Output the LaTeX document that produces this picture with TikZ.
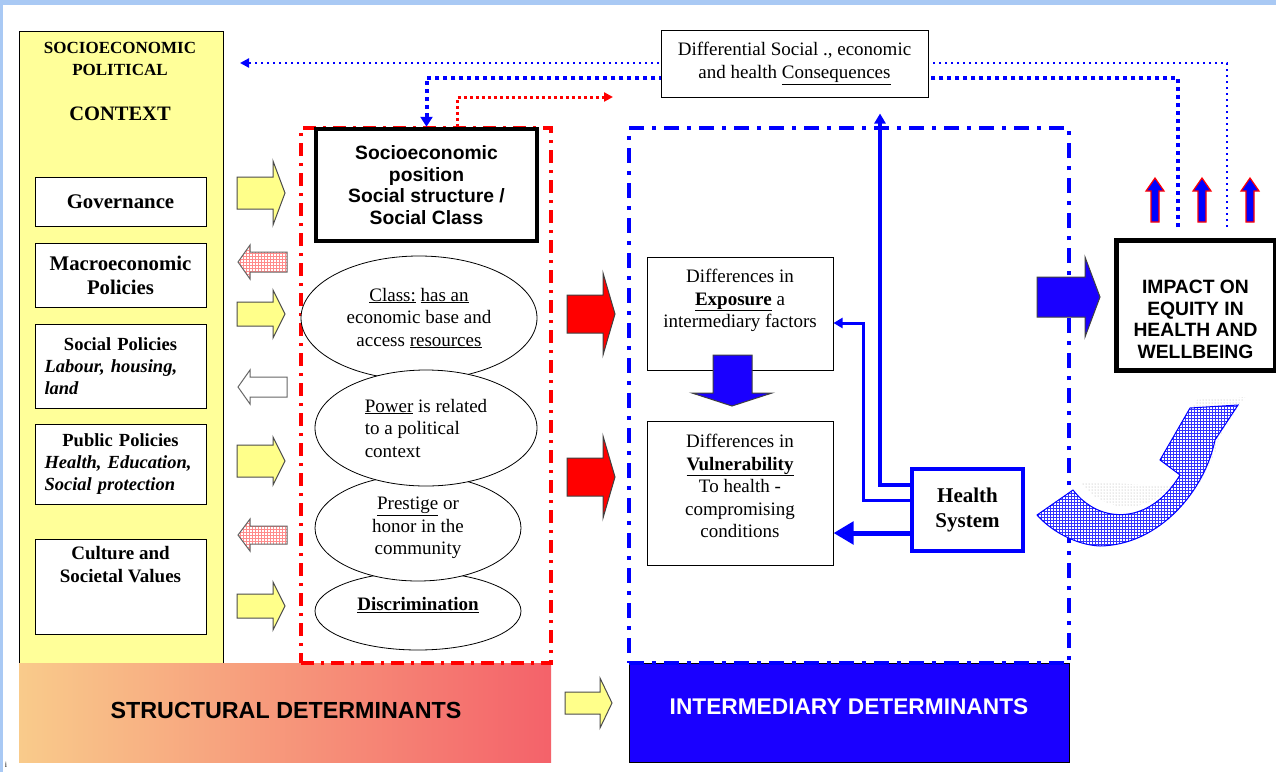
\documentclass[tikz,border=0pt]{standalone}
\usepackage{fontspec}
\setmainfont{Liberation Serif}
\setsansfont{Liberation Sans}
\usetikzlibrary{positioning,shapes.geometric,patterns,arrows.meta}
\definecolor{ctxyellow}{RGB}{255,255,153}
\definecolor{frameblue}{RGB}{169,201,244}
\definecolor{detblue}{RGB}{26,0,255}
\definecolor{linkblue}{RGB}{0,0,255}
\definecolor{sdorange}{RGB}{249,203,139}
\definecolor{sdred}{RGB}{244,98,106}
\newcommand{\diagfont}{\fontsize{19}{22.5}\selectfont}
\newcommand{\policyfont}{\fontsize{18.5}{22}\selectfont}
\newcommand{\capsfont}{\sffamily\bfseries\fontsize{19.3}{21.5}\selectfont}
\newcommand{\bigbold}{\bfseries\fontsize{20.8}{24}\selectfont}
\tikzset{
  ctx box/.style={draw,fill=ctxyellow,line width=1pt,inner sep=0pt},
  plain box/.style={draw,fill=white,line width=1pt,inner sep=0pt,align=center,font=\diagfont},
  policy box/.style={plain box,minimum width=171pt,text width=152pt,align=left,font=\policyfont},
  bold box/.style={plain box,line width=4.5pt},
  round node/.style={ellipse,draw,fill=white,line width=0.8pt,inner sep=0pt,align=center,font=\diagfont},
  body text/.style={inner sep=0pt,align=center,font=\diagfont},
  struct frame/.style={draw=red,line width=4pt,dash pattern=on 13pt off 7pt on 3pt off 7pt,inner sep=0pt},
  inter frame/.style={draw=linkblue,line width=4pt,dash pattern=on 15pt off 8pt on 4pt off 8pt,inner sep=0pt},
  yblk/.style={draw=black!70,line width=1pt,fill=ctxyellow!90!yellow},
  pblk/.style={draw=black!60,line width=1pt,preaction={fill=white},pattern=grid,pattern color=red!45},
  wblk/.style={draw=black!60,line width=1pt,fill=white},
  rblk/.style={draw=black!75,line width=1pt,fill=red},
  bblk/.style={draw=black!75,line width=1pt,fill=detblue},
  upblk/.style={draw=red,line width=1.2pt,fill=linkblue},
  fb thin/.style={draw=linkblue,line width=2.5pt,dash pattern=on 2.5pt off 3.5pt},
  fb thick/.style={draw=linkblue,line width=4pt,dash pattern=on 4pt off 4pt},
  hs link/.style={draw=linkblue,line width=3.5pt},
}
% block arrow: style, tail x, tip x, head x, y, shaft half, head half
\newcommand{\blk}[7]{\path[#1] (#2,{#5-#6}) -- (#4,{#5-#6}) -- (#4,{#5-#7}) -- (#3,#5) -- (#4,{#5+#7}) -- (#4,{#5+#6}) -- (#2,{#5+#6}) -- cycle;}

\begin{document}
\begin{tikzpicture}[x=1pt,y=-1pt]
    \useasboundingbox (0,0) rectangle (1276,772);
    \fill[frameblue] (0,0) rectangle (1276,772);
    \fill[white] (3,5) rectangle (1276,772);

    % context column
    \node[ctx box, minimum width=204pt, minimum height=632pt] (ctx) at (121,347) {};
    \node[body text, font=\bfseries\fontsize{17}{22}\selectfont] (ctxtitle) at (120,59) {SOCIOECONOMIC\\POLITICAL};
    \node[body text, font=\bfseries\fontsize{20.5}{24}\selectfont] (ctxname) at (120,114) {CONTEXT};
    \node[plain box, minimum width=171pt, minimum height=49pt, font=\bigbold] (gov) at (120.5,201.5) {Governance};
    \node[plain box, minimum width=171pt, minimum height=64pt, below=16pt of gov, font=\bigbold] (macro) {Macroeconomic\\Policies};
    \node[policy box, minimum height=84pt, below=16pt of macro] (social)
        {\makebox[152pt]{\bfseries Social Policies}\\\bfseries\itshape Labour, housing,\\\bfseries\itshape land};
    \node[policy box, minimum height=80pt, below=15pt of social] (public)
        {\makebox[152pt]{\bfseries Public Policies}\\\bfseries\itshape Health, Education,\\\bfseries\itshape Social protection};
    \node[plain box, minimum width=171pt, minimum height=95pt, below=34pt of public] (culture) {};
    \node[body text, below=8pt of culture.north] (culturet) {\bfseries Culture and\\\bfseries Societal Values};

    % bottom bars
    \node[draw=none, left color=sdorange, right color=sdred, minimum width=532pt, minimum height=99pt, inner sep=0pt] (structbar) at (285,712.5) {};
    \node[font=\sffamily\bfseries\fontsize{23.3}{28}\selectfont, inner sep=0pt] (structlbl) at (286,710) {STRUCTURAL DETERMINANTS};
    \node[draw, fill=detblue, line width=1pt, minimum width=440pt, minimum height=99pt, inner sep=0pt] (interbar) at (849,712.5) {};
    \node[font=\sffamily\bfseries\fontsize{22.7}{28}\selectfont, text=white, inner sep=0pt] (interlbl) at (849,707) {INTERMEDIARY DETERMINANTS};

    % block arrows between context and structure
    \blk{yblk}{237}{285}{273}{193}{16}{32}
    \blk{pblk}{287}{238}{250}{262}{10}{17}
    \blk{yblk}{237}{285}{273}{314}{12}{24}
    \blk{wblk}{287}{238}{250}{387}{10}{17}
    \blk{yblk}{237}{285}{273}{461}{16}{24}
    \blk{pblk}{287}{238}{250}{535}{9}{16}
    \blk{yblk}{237}{285}{273}{606}{12}{24}
    \blk{yblk}{565}{612}{600}{703}{11}{25}

    % structural determinants
    \node[struct frame, minimum width=250pt, minimum height=535pt] (structframe) at (426,395.5) {};
    \node[bold box, minimum width=221pt, minimum height=112pt, font=\capsfont] (socio) at (426.5,185)
        {Socioeconomic\\position\\Social structure /\\Social Class};
    \node[round node, minimum width=236pt, minimum height=124pt] (class) at (419,318)
        {\underline{Class:} \underline{has an}\\economic base and\\access \underline{resources}};
    \node[round node, minimum width=206pt, minimum height=78pt] (discr) at (418,611)
        {\raisebox{14pt}{\bfseries\underline{Discrimination}}};
    \node[round node, minimum width=206pt, minimum height=106pt] (prestige) at (418,528)
        {\underline{Prestige} or\\honor in the\\community};
    \node[round node, minimum width=222pt, minimum height=116pt, align=left] (power) at (426,428)
        {\underline{Power} is related\\to a political\\context};

    \blk{rblk}{567}{615}{603}{314}{19}{41}
    \blk{rblk}{567}{615}{603}{477}{19}{41}

    % intermediary determinants
    \node[inter frame, minimum width=440pt, minimum height=535pt] (interframe) at (849,395.5) {};
    \node[plain box, minimum width=186pt, minimum height=113pt] (expo) at (740,313.5) {};
    \node[body text] (expot) at (740,300.5) {Differences in\\\textbf{\underline{Exposure}} a\\intermediary factors};
    \node[plain box, minimum width=186pt, minimum height=144pt] (vuln) at (740,493) {};
    \node[body text] (vulnt) at (740,486) {Differences in\\\textbf{\underline{Vulnerability}}\\To health -\\compromising\\conditions};
    \path[bblk] (713,355) -- (752,355) -- (752,393) -- (772,393) -- (732,406) -- (692,393) -- (713,393) -- cycle;
    \node[plain box, draw=linkblue, line width=4pt, minimum width=111pt, minimum height=82pt, font=\bfseries\fontsize{21}{25}\selectfont] (hs) at (967.5,510) {Health\\System};

    % feedback to context and position
    \coordinate (fbtop) at (1227,227);
    \coordinate (fbmid) at (1178,227);
    \coordinate (ctxin) at (240,63);
    \coordinate (redend) at (613,97);
    \draw[fb thin, -{Triangle[length=9pt,width=9pt]}] (fbtop) |- (ctxin);
    \draw[fb thick, -{Triangle[length=10pt,width=12pt]}] (fbmid) |- ([yshift=49pt]socio.north) -- (socio.north);
    \draw[red, line width=3pt, dash pattern=on 3pt off 3pt, -{Triangle[length=9pt,width=9pt]}] ([xshift=31pt]socio.north) |- (redend);

    \node[plain box, minimum width=267pt, minimum height=67pt] (cons) at (794.5,63.5)
        {Differential Social ., economic\\and health \underline{Consequences}};

    % health system links
    \draw[hs link, -{Triangle[length=10pt,width=11pt]}] ([yshift=25pt]hs.west) -| ([xshift=85.5pt,yshift=-16pt]cons.south);
    \draw[hs link, line width=3pt, -{Triangle[length=9pt,width=10pt]}] ([yshift=10pt]hs.west) -- ++(-47,0) |- ([yshift=-9.5pt]expo.east);
    \draw[hs link, line width=5pt, -{Triangle[length=20pt,width=22pt]}] ([yshift=-23pt]hs.west) -- ([yshift=-40pt]vuln.east);

    % impact
    \blk{bblk}{1037}{1100}{1085}{297}{20}{40}
    \node[plain box, line width=5pt, minimum width=159pt, minimum height=130pt] (impact) at (1195.5,305) {};
    \node[body text, font=\capsfont] (impactt) at (1195.5,319.5) {IMPACT ON\\EQUITY IN\\HEALTH AND\\WELLBEING};
    \foreach \ux in {1155,1202,1250} {
        \path[upblk] (\ux-4,222) -- (\ux-4,191) -- (\ux-9,191) -- (\ux,178) -- (\ux+9,191) -- (\ux+4,191) -- (\ux+4,222) -- cycle;
    }

    % curved return arrow
    \path[pattern=dots, pattern color=gray!70, shift={(7,-8)}]
        (1073,490) .. controls (1100,525) and (1150,525) .. (1180,475) -- (1160,460) -- (1190,408) -- (1238,405) -- (1215,440)
        .. controls (1205,470) and (1200,480) .. (1190,495) -- cycle;
    \path[draw=linkblue, line width=1pt, preaction={fill=white}, pattern=grid, pattern color=linkblue!80]
        (1037,515) -- (1073,490) .. controls (1100,525) and (1150,525) .. (1180,475) -- (1160,460) -- (1190,408) -- (1238,405) -- (1215,440)
        .. controls (1205,490) and (1160,545) .. (1100,546) .. controls (1075,545) and (1050,530) .. (1037,515) -- cycle;

    \node[font=\fontsize{8}{9}\selectfont, inner sep=0pt] (mark) at (6,765) {i};
\end{tikzpicture}
\end{document}
